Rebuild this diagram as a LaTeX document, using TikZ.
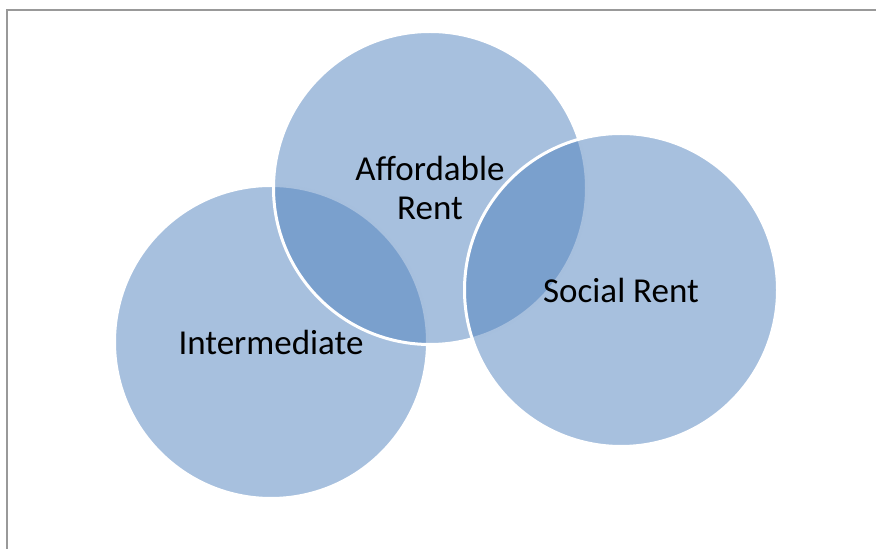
\documentclass[tikz,border=0pt]{standalone}
\usepackage{fontspec}
\setmainfont{Carlito}
\definecolor{ringblue}{HTML}{4F81BD}
\definecolor{framegray}{HTML}{999999}

\begin{document}
\begin{tikzpicture}[
    x=1pt, y=1pt,
    ring/.style={circle, minimum size=313pt, inner sep=0pt, fill=ringblue, fill opacity=0.5, text opacity=1,
                 draw=white, line width=3pt, font=\fontsize{35}{39}\selectfont, align=center},
    frame/.style={draw=framegray, line width=2pt},
]
\useasboundingbox (0,0) rectangle (876,549);

% ── Frame (top and left edge) ──
\coordinate (fbl) at (7,0);
\coordinate (ftl) at (7,539);
\coordinate (ftr) at (876,539);
\draw[frame] (fbl) -- (ftl) -- (ftr);

% ── Rings ──
\node[ring] (inter)  at (271,207) {Intermediate};
\node[ring] (afford) at (430,361) {Affordable\\Rent};
\node[ring] (social) at (621,259) {Social Rent};

\end{tikzpicture}
\end{document}
